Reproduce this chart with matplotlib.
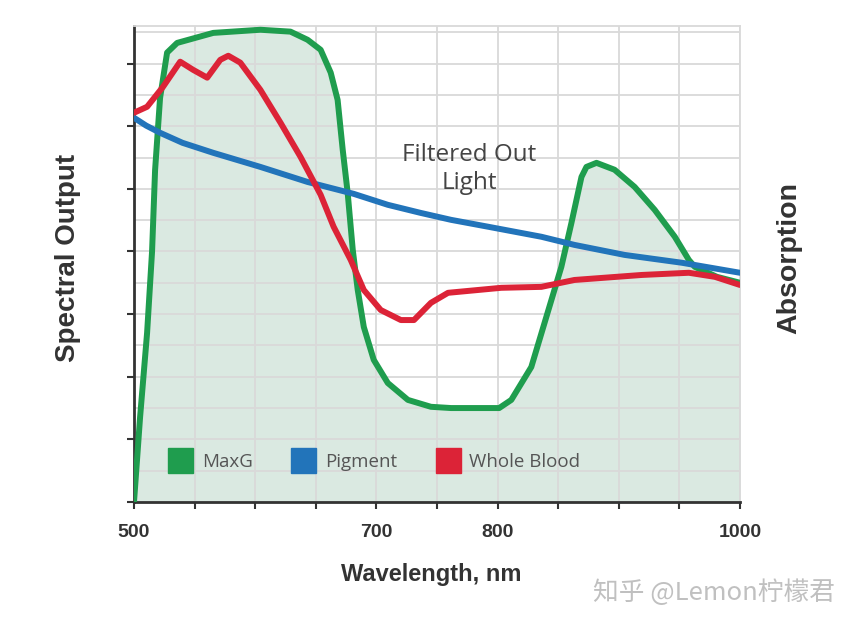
import numpy as np
import matplotlib
matplotlib.use("Agg")
import matplotlib.pyplot as plt
from matplotlib.lines import Line2D

# curves (wavelength nm, relative output)
green_nm = [500, 505, 510.8, 514.9, 517.4, 521.5, 527.3, 535.6, 565.4, 604.3, 629.1, 643.2, 654, 662.3,
            668, 672.2, 676.3, 680.5, 684.6, 689.6, 697.8, 709.4, 726, 745, 761.6, 801.3, 811.3, 827.8,
            844.4, 852.6, 860.9, 869.2, 873.3, 881.6, 896.5, 913.1, 929.6, 946.2, 957.8, 962.7, 981, 1000]
green_val = [0, 2.7, 5.4, 8.0, 10.6, 12.9, 14.35, 14.66, 14.98, 15.08, 15.02, 14.76, 14.44, 13.71,
             12.84, 11.25, 9.87, 8.05, 6.77, 5.59, 4.54, 3.8, 3.26, 3.04, 3.0, 3.0, 3.26, 4.31,
             6.45, 7.51, 8.91, 10.38, 10.7, 10.83, 10.61, 10.06, 9.33, 8.47, 7.73, 7.51, 7.19, 7.0]

blood_nm = [500, 510.8, 524, 538.1, 548.8, 560.4, 571.2, 577.8, 587.7, 604.3, 620.9, 637.4, 654, 664.7,
            678.8, 689.6, 703.6, 720.2, 731, 745, 759.1, 803, 836.1, 863.4, 918.9, 957.8, 979.3, 1000]
blood_val = [12.43, 12.62, 13.26, 14.06, 13.8, 13.55, 14.12, 14.25, 14.03, 13.16, 12.11, 11.02, 9.81, 8.79,
             7.73, 6.77, 6.13, 5.81, 5.81, 6.36, 6.68, 6.84, 6.87, 7.09, 7.25, 7.32, 7.19, 6.93]

pigment_nm = [500, 510, 521.5, 540, 565.4, 604.3, 643.2, 681.3, 709.4, 736.7, 761.6, 792.2, 836.1, 863.4, 904.8, 952, 1000]
pigment_val = [12.27, 12.02, 11.79, 11.47, 11.15, 10.7, 10.22, 9.84, 9.49, 9.23, 9.01, 8.79, 8.47, 8.21, 7.89, 7.64, 7.32]

x_labels = {500: "500", 700: "700", 800: "800", 1000: "1000"}
legend_names = ["MaxG", "Pigment", "Whole Blood"]

c_green = "#1f9d4e"
c_blue = "#2274ba"
c_red = "#dc2337"

fig = plt.figure(figsize=(8.56, 6.27), dpi=100)
ax = fig.add_axes([134/856, 1-502/627, 606/856, 476/627])

ax.fill_between(green_nm, 0, green_val, color="#dae9e1", zorder=1, lw=0)
ax.plot(green_nm, green_val, color=c_green, lw=4.3, zorder=3, solid_joinstyle="round", solid_capstyle="round")
ax.plot(pigment_nm, pigment_val, color=c_blue, lw=4.3, zorder=3, solid_joinstyle="round", solid_capstyle="round")
ax.plot(blood_nm, blood_val, color=c_red, lw=4.3, zorder=4, solid_joinstyle="round", solid_capstyle="round")

ax.set_xlim(500, 1000)
ax.set_ylim(0, 15.2)

# grid every 50 nm / every unit, ticks every 2 units
ax.set_xticks(np.arange(500, 1001, 50))
ax.set_xticklabels([x_labels.get(int(v), "") for v in np.arange(500, 1001, 50)],
                   fontsize=14, fontweight="bold", color="#333333", family="Liberation Sans")
ax.set_yticks(np.arange(0, 15, 2))
ax.set_yticklabels([])
ax.set_yticks(np.arange(0, 16, 1), minor=True)
ax.tick_params(axis="x", direction="out", length=5, width=1.5, color="#333333", pad=11)
ax.tick_params(axis="y", direction="out", length=5, width=1.5, color="#333333")
ax.tick_params(axis="y", which="minor", length=0)
ax.set_axisbelow("line")
ax.grid(True, which="both", color="#d9d9d9", lw=1.3, zorder=2)

for s in ["left", "bottom"]:
    ax.spines[s].set_color("#333333")
    ax.spines[s].set_linewidth(2)
for s in ["top", "right"]:
    ax.spines[s].set_color("#d9d9d9")
    ax.spines[s].set_linewidth(1.3)

ax.text(776.5, 10.64, "Filtered Out\nLight", ha="center", va="center", fontsize=17.5,
        color="#444444", family="Open Sans", linespacing=1.2)

handles = [Line2D([], [], ls="none", marker="s", markersize=18, color=c) for c in [c_green, c_blue, c_red]]
ax.legend(handles, legend_names, loc="lower left", bbox_to_anchor=(0.03, 0.03), ncol=3, frameon=False,
          prop={"family": "Open Sans", "size": 13.5}, labelcolor="#555555",
          handletextpad=0.55, columnspacing=2.1, handlelength=1.2)

fig.text(68/856, 1-258/627, "Spectral Output", rotation=90, ha="center", va="center",
         fontsize=20, fontweight="bold", color="#333333", family="Liberation Sans")
fig.text(789/856, 1-258/627, "Absorption", rotation=90, ha="center", va="center",
         fontsize=20.5, fontweight="bold", color="#333333", family="Liberation Sans")
fig.text(431/856, 1-574/627, "Wavelength, nm", ha="center", va="center",
         fontsize=17, fontweight="bold", color="#333333", family="Liberation Sans")

# watermark
fig.text(714/856, 1-593/627, "知乎 @Lemon柠檬君", ha="center", va="center", fontsize=18.5,
         color="#c0c0c0", family=["Noto Sans CJK SC", "DejaVu Sans"], fontweight="light")

fig.savefig("out.png", dpi=100, facecolor="white")
